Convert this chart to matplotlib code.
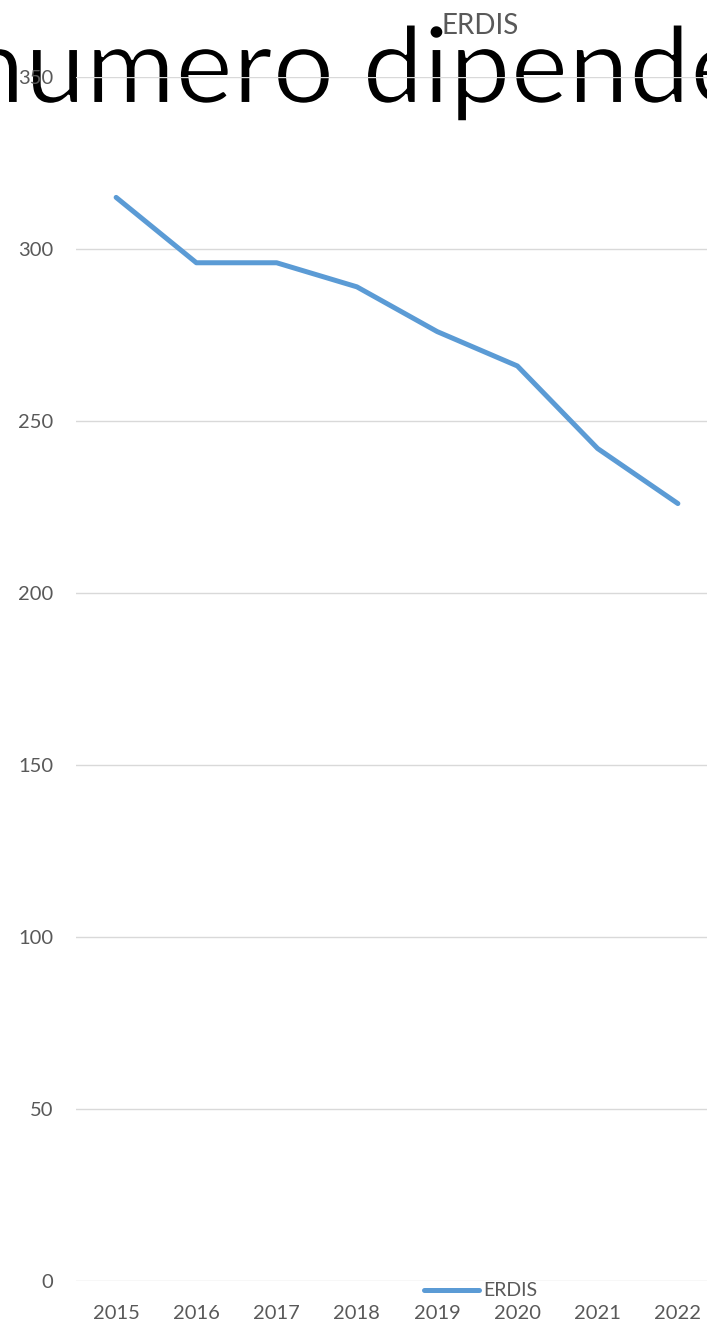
import matplotlib.pyplot as plt
from matplotlib.textpath import TextPath
from matplotlib.patches import PathPatch
from matplotlib.font_manager import FontProperties
from matplotlib.transforms import Affine2D

years = ['2015', '2016', '2017', '2018', '2019', '2020', '2021', '2022']
dipendenti = [315, 296, 296, 289, 276, 266, 242, 226]
big_title = 'numero dipendenti'
series_name = 'ERDIS'

plt.rcParams['font.family'] = ['Lato', 'DejaVu Sans']

W, H = 707, 1323
fig = plt.figure(figsize=(W / 100, H / 100), dpi=100)
ax = fig.add_axes([76 / W, 42 / H, 642 / W, 1204 / H])
ax.patch.set_visible(False)

x = list(range(len(years)))
ax.plot(x, dipendenti, color='#5B9BD5', linewidth=3.6, solid_capstyle='round', label=series_name)

ax.set_xlim(-0.5, len(years) - 0.5)
ax.set_ylim(0, 350)
ax.set_yticks(range(0, 351, 50))
ax.set_xticks(x)
ax.set_xticklabels(years)
ax.grid(axis='y', color='#D9D9D9', linewidth=1)
ax.set_axisbelow(True)
for s in ax.spines.values():
    s.set_visible(False)
ax.tick_params(length=0, labelsize=14.5, labelcolor='#595959')
ax.tick_params(axis='y', pad=16.5)
ax.tick_params(axis='x', pad=17)

# huge title (clipped by the figure edge), sized to the reference glyphs
fp = FontProperties(family='Lato')
def ext(s):
    return TextPath((0, 0), s, size=1, prop=fp).get_extents()
u_left = ext('nu').x1 - ext('u').width
d_left = ext('numero d').x1 - ext('d').width
sx = (367 - 32) / (d_left - u_left)
x0 = 32 - sx * u_left
sy = 54 / ext('x').y1
tp = TextPath((0, 0), big_title, size=1, prop=fp)
tr = Affine2D().scale(sx / W, sy / H).translate(x0 / W, (H - 103) / H) + fig.transFigure
# white outline thins the strokes a little, closer to the reference
fig.add_artist(PathPatch(tp, transform=tr, facecolor='black', edgecolor='white',
                         linewidth=1.5, zorder=-1))

fig.text(480 / W, 1 - 34 / H, series_name, fontsize=20, color='#595959',
         ha='center', va='baseline')

fig.legend(loc='center', bbox_to_anchor=(481 / W, 1 - 1291 / H), frameon=False,
           fontsize=14, labelcolor='#595959', handlelength=2.8, handletextpad=0.25,
           borderpad=0, borderaxespad=0)

fig.savefig('out.png', dpi=100)
